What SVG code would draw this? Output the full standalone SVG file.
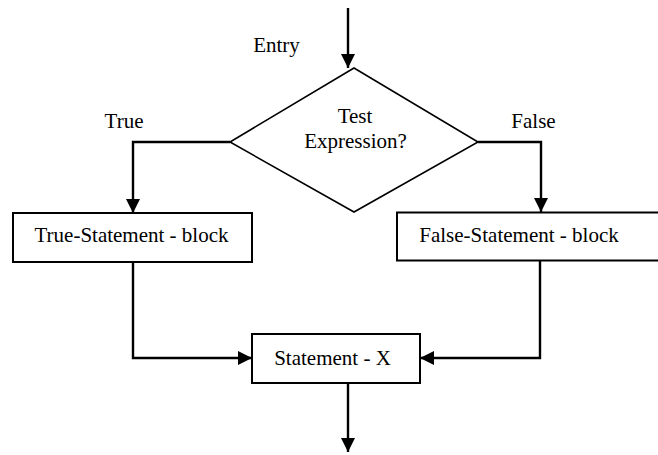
<svg xmlns="http://www.w3.org/2000/svg" width="658" height="455" viewBox="0 0 658 455">
<style>
text{font-family:'Liberation Serif','Times New Roman',Times,'DejaVu Serif',serif;font-size:21px;fill:#000}
.box{fill:#fff;stroke:#000;stroke-width:2}
.dia{fill:#fff;stroke:#000;stroke-width:1.6}
.c{fill:none;stroke:#000;stroke-width:2.4}
</style>
<defs>
<marker id="ah" viewBox="0 0 14 14" refX="14" refY="7" markerWidth="14" markerHeight="14" markerUnits="userSpaceOnUse" orient="auto">
<path d="M0,0 L14,7 L0,14 Z" fill="#000"/>
</marker>
</defs>
<g id="connectors">
<line class="c" x1="348" y1="8" x2="348" y2="68" marker-end="url(#ah)"/>
<polyline class="c" points="230,142 133,142 133,213" marker-end="url(#ah)"/>
<polyline class="c" points="478,142 541,142 541,212" marker-end="url(#ah)"/>
<polyline class="c" points="133,262 133,358 252,358" marker-end="url(#ah)"/>
<polyline class="c" points="540,261 540,358 420,358" marker-end="url(#ah)"/>
<line class="c" x1="348" y1="383" x2="348" y2="452" marker-end="url(#ah)"/>
</g>
<g id="entry-label"><text font-family="Liberation Serif, serif" x="276.5" y="52" text-anchor="middle">Entry</text></g>
<g id="true-label"><text font-family="Liberation Serif, serif" x="124" y="128" text-anchor="middle">True</text></g>
<g id="false-label"><text font-family="Liberation Serif, serif" x="533.5" y="128" text-anchor="middle">False</text></g>
<g id="decision">
<polygon class="dia" points="354,68 478,142 354,212 230,142"/>
<text font-family="Liberation Serif, serif" x="355" y="123" text-anchor="middle">Test</text>
<text font-family="Liberation Serif, serif" x="355.5" y="148" text-anchor="middle">Expression?</text>
</g>
<g id="true-block">
<rect class="box" x="13" y="213" width="239" height="49"/>
<text font-family="Liberation Serif, serif" x="131.5" y="242" text-anchor="middle">True-Statement - block</text>
</g>
<g id="false-block">
<rect class="box" x="397" y="212.5" width="265" height="48"/>
<text font-family="Liberation Serif, serif" x="519" y="242" text-anchor="middle">False-Statement - block</text>
</g>
<g id="statement-x">
<rect class="box" x="252" y="334" width="168" height="49"/>
<text font-family="Liberation Serif, serif" x="332.5" y="365" text-anchor="middle">Statement - X</text>
</g>
</svg>
